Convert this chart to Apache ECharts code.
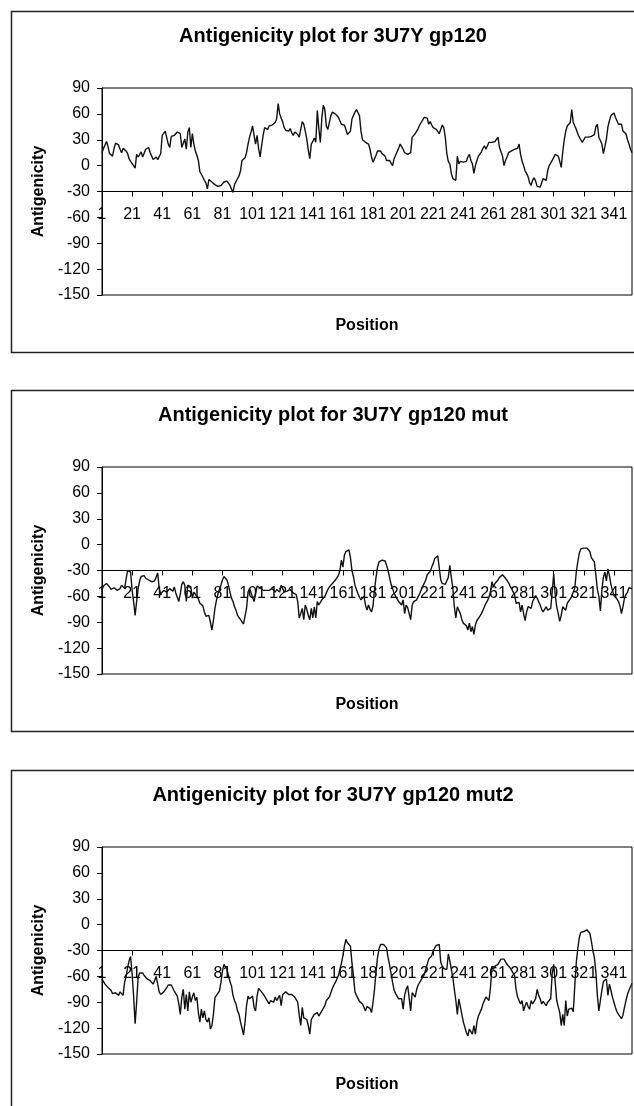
<!DOCTYPE html>
<html><head><meta charset="utf-8">
<script src="https://cdn.jsdelivr.net/npm/echarts@6/dist/echarts.min.js"></script>
<style>html,body{margin:0;padding:0;background:#fff}#c{width:634px;height:1106px}</style>
</head><body><div id="c"></div>
<script>
const titles = ['Antigenicity plot for 3U7Y gp120', 'Antigenicity plot for 3U7Y gp120 mut', 'Antigenicity plot for 3U7Y gp120 mut2'];
const xName = 'Position';
const yName = 'Antigenicity';
const positions = Array.from({length: 353}, (_, i) => String(i + 1));
const yMin = -150, yMax = 90, yStep = 30;

const gp120 = [
15,20,24,28,22,14,12,11,20,26,
25,24,19,15,20,19,17,14,8,5,
4,0,-3,13,10,12,16,10,12,19,
20,21,15,11,7,9,10,7,9,14,
35,37,40,38,25,21,34,35,35,36,
39,39,37,21,26,31,19,39,44,21,
37,25,17,12,6,-7,-10,-12,-17,-20,
-27,-16,-17,-19,-20,-22,-23,-24,-24,-23,
-24,-19,-18,-18,-20,-23,-27,-31,-22,-20,
-15,-12,-6,6,8,9,15,25,33,39,
46,35,25,35,20,10,23,35,44,43,
42,46,47,47,47,50,54,72,60,55,
51,44,41,39,40,43,38,35,39,37,
36,33,42,51,48,40,31,18,8,25,
28,32,27,64,43,27,55,70,65,46,
42,41,58,62,63,60,58,56,52,48,
48,47,42,36,35,40,54,58,62,65,
67,58,40,30,28,27,26,25,19,10,
4,8,12,17,19,17,14,12,11,6,
4,6,3,0,8,12,16,20,25,22,
19,15,14,13,14,15,33,34,37,40,
43,47,50,52,56,58,55,48,51,47,
44,43,42,40,37,35,47,44,33,14,
5,2,-9,-15,-17,-17,11,2,5,6,
4,4,5,10,13,6,2,-9,0,6,
11,13,16,20,23,19,18,27,29,27,
27,28,30,33,21,16,11,0,6,10,
15,16,17,18,19,17,20,25,13,5,
0,-6,-9,-13,-20,-23,-17,-14,-18,-24,
-25,-25,-26,-15,-16,-17,-6,0,2,6,
8,13,14,11,5,-2,16,30,40,46,
48,50,65,50,46,42,37,33,30,27,
30,33,32,33,33,34,35,36,45,48,
33,35,25,14,22,31,45,52,58,60,
61,56,54,48,49,48,40,38,37,30,
25,19,15
];

const gp120mut = [
-52,-48,-46,-45,-47,-49,-52,-54,-50,-49,
-53,-55,-51,-47,-46,-51,-40,-30,-28,-32,
-53,-66,-82,-66,-51,-42,-37,-35,-36,-39,
-40,-41,-41,-43,-45,-42,-40,-33,-51,-57,
-55,-53,-54,-55,-53,-51,-52,-54,-49,-56,
-61,-66,-57,-46,-43,-47,-66,-47,-48,-49,
-62,-55,-56,-60,-63,-68,-69,-71,-78,-83,
-85,-82,-90,-99,-88,-74,-65,-57,-52,-47,
-41,-37,-39,-41,-47,-55,-62,-66,-72,-76,
-82,-84,-87,-89,-92,-94,-74,-55,-51,-56,
-61,-66,-57,-48,-47,-50,-52,-53,-55,-53,
-51,-53,-55,-51,-53,-55,-52,-50,-55,-47,
-49,-55,-53,-54,-53,-52,-51,-56,-57,-58,
-66,-85,-80,-74,-87,-70,-75,-82,-87,-74,
-85,-72,-85,-66,-70,-68,-64,-66,-60,-58,
-52,-49,-47,-45,-43,-41,-39,-36,-30,-18,
-26,-12,-8,-10,-6,-15,-30,-37,-47,-52,
-57,-61,-64,-66,-60,-70,-76,-70,-75,-78,
-71,-52,-38,-26,-20,-18,-18,-20,-19,-24,
-30,-38,-46,-51,-56,-60,-63,-66,-68,-70,
-64,-80,-70,-73,-75,-87,-70,-66,-65,-64,
-60,-57,-55,-48,-45,-41,-35,-33,-31,-26,
-22,-16,-14,-13,-12,-41,-45,-46,-46,-45,
-38,-24,-38,-50,-72,-85,-72,-76,-80,-87,
-91,-92,-94,-99,-91,-101,-95,-104,-93,-88,
-86,-83,-80,-76,-72,-68,-65,-61,-55,-43,
-49,-45,-43,-41,-38,-36,-35,-37,-39,-41,
-44,-48,-51,-53,-58,-68,-66,-67,-78,-70,
-80,-88,-78,-72,-70,-74,-66,-64,-59,-62,
-66,-70,-75,-78,-80,-72,-76,-78,-74,-55,
-34,-58,-72,-80,-89,-82,-72,-73,-76,-68,
-66,-63,-60,-59,-50,-32,-20,-10,-5,-4,
-4,-4,-4,-5,-8,-15,-14,-20,-35,-52,
-60,-77,-52,-38,-32,-42,-28,-36,-46,-53,
-59,-61,-63,-66,-71,-80,-72,-62,-58,-55,
-50,-49,-51
];

const gp120mut2 = [
-63,-66,-69,-71,-73,-74,-76,-80,-82,-79,
-81,-82,-78,-80,-82,-67,-60,-50,-42,-37,
-57,-83,-115,-90,-61,-56,-55,-56,-59,-61,
-63,-64,-65,-67,-69,-71,-60,-69,-78,-81,
-82,-78,-76,-73,-70,-69,-70,-72,-77,-80,
-83,-92,-104,-84,-75,-98,-81,-100,-78,-90,
-84,-79,-88,-84,-102,-113,-98,-108,-100,-110,
-113,-108,-121,-117,-104,-85,-82,-80,-77,-67,
-54,-46,-48,-52,-59,-66,-71,-82,-88,-92,
-100,-104,-113,-120,-128,-113,-94,-83,-86,-84,
-83,-96,-100,-83,-74,-73,-78,-80,-83,-86,
-89,-92,-88,-89,-90,-84,-88,-90,-82,-94,
-81,-79,-78,-80,-81,-79,-81,-82,-84,-87,
-90,-105,-117,-96,-108,-106,-110,-117,-127,-110,
-112,-104,-106,-102,-106,-104,-100,-97,-94,-88,
-90,-84,-79,-74,-70,-67,-69,-59,-61,-45,
-36,-25,-17,-21,-23,-25,-44,-59,-78,-82,
-84,-89,-87,-92,-96,-100,-95,-94,-97,-102,
-90,-75,-55,-38,-28,-23,-22,-23,-24,-27,
-38,-47,-57,-67,-76,-80,-83,-86,-88,-86,
-98,-82,-75,-71,-85,-100,-79,-81,-84,-75,
-70,-67,-65,-61,-58,-52,-46,-40,-38,-36,
-30,-27,-24,-23,-23,-44,-48,-51,-53,-52,
-34,-42,-52,-61,-75,-88,-104,-86,-88,-104,
-113,-119,-125,-129,-121,-124,-127,-117,-127,-113,
-106,-102,-98,-92,-88,-84,-83,-88,-73,-48,
-52,-48,-50,-46,-43,-40,-38,-40,-42,-46,
-48,-50,-53,-56,-59,-75,-84,-86,-92,-88,
-100,-94,-90,-95,-98,-88,-92,-90,-86,-75,
-82,-86,-92,-89,-88,-94,-90,-92,-86,-57,
-46,-67,-88,-95,-102,-117,-104,-117,-88,-106,
-98,-100,-97,-101,-71,-44,-28,-15,-9,-8,
-8,-7,-6,-8,-10,-19,-30,-38,-55,-82,
-100,-88,-76,-66,-64,-63,-82,-69,-76,-84,
-90,-96,-101,-104,-106,-109,-105,-96,-88,-81,
-76,-72,-68
];

const seriesData = [gp120, gp120mut, gp120mut2];
const FONT = '"Liberation Sans", Arial, sans-serif';
const panelTops = [11, 390, 770];
const plotLeft = 102, plotWidth = 530, plotHeight = 207;

const grid = [], xAxis = [], yAxis = [], series = [], title = [], graphic = [];
panelTops.forEach((pt, i) => {
  const top = pt + 77;
  grid.push({left: plotLeft, top: top, width: plotWidth, height: plotHeight, show: true, borderColor: '#000', borderWidth: 1, containLabel: false});
  grid.push({left: plotLeft, top: top, width: plotWidth, height: plotHeight * (yMax - (-30)) / (yMax - yMin), show: false, containLabel: false});
  const ga = 2 * i, gb = 2 * i + 1;
  xAxis.push({
    type: 'category', gridIndex: ga, data: positions, boundaryGap: false,
    axisLine: {show: false, onZero: false}, axisTick: {show: false}, axisLabel: {show: false}, splitLine: {show: false},
    name: xName, nameLocation: 'middle', nameGap: 23,
    nameTextStyle: {fontSize: 16, fontWeight: 'bold', color: '#000', fontFamily: FONT}
  });
  xAxis.push({
    type: 'category', gridIndex: gb, data: positions, boundaryGap: false,
    axisLine: {show: true, onZero: false, lineStyle: {color: '#000', width: 1}},
    axisTick: {show: true, interval: 19, length: 5, lineStyle: {color: '#000'}},
    axisLabel: {interval: 19, fontSize: 16, color: '#000', margin: 15, fontFamily: FONT},
    splitLine: {show: false}
  });
  yAxis.push({
    type: 'value', gridIndex: ga, min: yMin, max: yMax, interval: yStep,
    axisLine: {show: true, lineStyle: {color: '#000', width: 1}},
    axisTick: {show: true, length: 5, lineStyle: {color: '#000'}},
    axisLabel: {fontSize: 16, color: '#000', margin: 12, fontFamily: FONT},
    splitLine: {show: false},
    name: yName, nameLocation: 'middle', nameGap: 52,
    nameTextStyle: {fontSize: 16, fontWeight: 'bold', color: '#000', fontFamily: FONT}
  });
  yAxis.push({type: 'value', gridIndex: gb, show: false, min: 0, max: 1});
  series.push({
    type: 'line', xAxisIndex: ga, yAxisIndex: ga, data: seriesData[i],
    symbol: 'none', lineStyle: {color: '#111', width: 1.4}, z: 3
  });
  title.push({
    text: titles[i], left: 328, textAlign: 'center', top: pt + 10,
    textStyle: {fontSize: 20, fontWeight: 'bold', color: '#000', fontFamily: FONT}
  });
  graphic.push({
    type: 'rect', shape: {x: 11.5, y: pt + 0.5, width: 640, height: 341},
    style: {fill: null, stroke: '#222', lineWidth: 1.5}, z: -1
  });
});

const chart = echarts.init(document.getElementById('c'), null, {renderer: 'canvas'});
chart.setOption({
  animation: false,
  backgroundColor: '#fff',
  textStyle: {fontFamily: FONT},
  title, grid, xAxis, yAxis, series, graphic
});
</script>
</body></html>
